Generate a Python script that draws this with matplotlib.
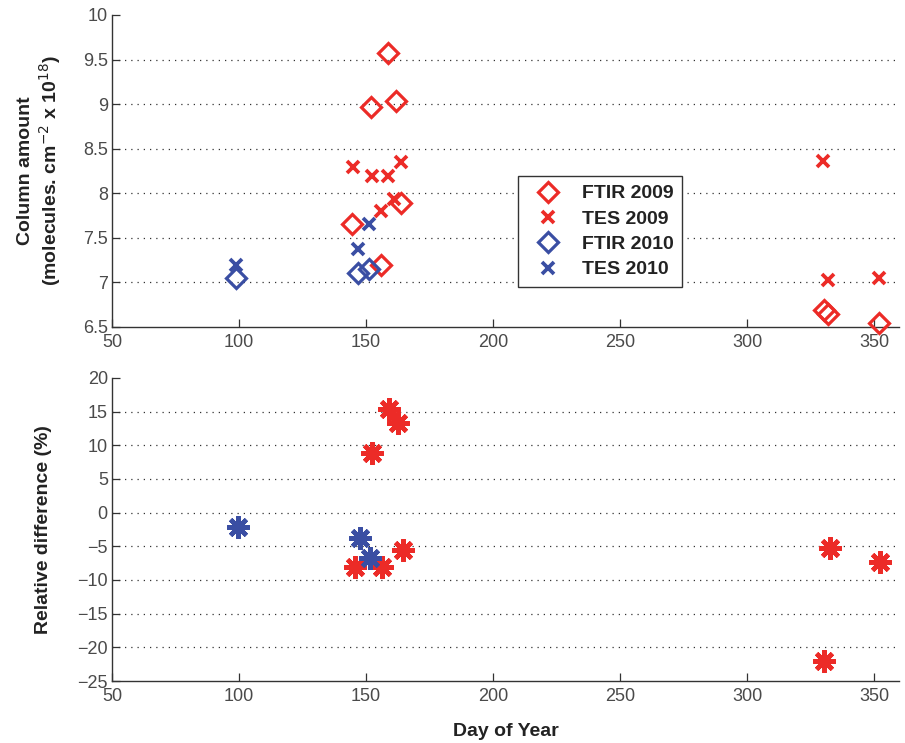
import matplotlib
matplotlib.use("Agg")
import matplotlib.pyplot as plt

plt.rcParams['font.family'] = ['Liberation Sans', 'DejaVu Sans']

RED = '#ec2b27'
BLUE = '#3a4ea3'

# Top panel: column amounts (x 1e18 molecules/cm2)
ftir2009_day = [144.5, 152, 156, 158.7, 161.8, 163.8, 330.5, 332, 352]
ftir2009_val = [7.65, 8.97, 7.20, 9.57, 9.03, 7.89, 6.69, 6.65, 6.54]
tes2009_day = [144.9, 152.3, 156, 158.7, 161, 163.8, 330, 332, 352]
tes2009_val = [8.29, 8.19, 7.80, 8.19, 7.94, 8.35, 8.36, 7.03, 7.05]
ftir2010_day = [99, 147, 151]
ftir2010_val = [7.05, 7.11, 7.15]
tes2010_day = [99, 147, 151]
tes2010_val = [7.20, 7.37, 7.65]

# Bottom panel: relative difference (%)
rd2009_day = [145.7, 152.4, 156.3, 159, 162.6, 164.6, 330.5, 332.5, 352.5]
rd2009_val = [-8.0, 8.8, -8.0, 15.4, 13.3, -5.5, -22.0, -5.3, -7.4]
rd2010_day = [99.6, 147.6, 151.6]
rd2010_val = [-2.1, -3.7, -6.7]

xticks = [50, 100, 150, 200, 250, 300, 350]
yticks_top = [6.5, 7, 7.5, 8, 8.5, 9, 9.5, 10]
ytick_top_labels = ['6.5', '7', '7.5', '8', '8.5', '9', '9.5', '10']
yticks_bot = [-25, -20, -15, -10, -5, 0, 5, 10, 15, 20]

fig = plt.figure(figsize=(9.05, 7.43), dpi=100)
ax1 = fig.add_axes([0.1238, 0.5599, 0.870, 0.420])
ax2 = fig.add_axes([0.1238, 0.0834, 0.870, 0.408])

TICKC = '#4a4a4a'

def style(ax, yt, ylabels=None):
    ax.set_xlim(50, 360)
    ax.set_xticks(xticks)
    ax.set_yticks(yt)
    if ylabels is not None:
        ax.set_yticklabels(ylabels)
    else:
        ax.set_yticklabels([str(v).replace('-', '\u2212') for v in yt])
    for s in ['top', 'right']:
        ax.spines[s].set_visible(False)
    for s in ['left', 'bottom']:
        ax.spines[s].set_color('#333333')
        ax.spines[s].set_linewidth(1.0)
    ax.tick_params(direction='in', length=6, width=0.9, colors='#333333',
                   labelcolor=TICKC, labelsize=13)
    ax.tick_params(axis='y', pad=3)
    ax.tick_params(axis='x', pad=5)
    for y in yt[1:-1]:
        ax.axhline(y, color='#333333', linestyle=(0, (1, 4)), linewidth=0.9, zorder=0)

ax1.set_ylim(6.5, 10)
style(ax1, yticks_top, ytick_top_labels)
ax2.set_ylim(-25, 20)
style(ax2, yticks_bot)

ms_d = 10.5
ax1.plot(ftir2009_day, ftir2009_val, 'D', ms=ms_d, mfc='none', mec=RED, mew=2.3,
         clip_on=False, zorder=3, label='FTIR 2009')
ax1.plot(tes2009_day, tes2009_val, 'x', ms=8, mec=RED, mew=2.7,
         clip_on=False, zorder=3, label='TES 2009')
ax1.plot(ftir2010_day, ftir2010_val, 'D', ms=ms_d, mfc='none', mec=BLUE, mew=2.3,
         clip_on=False, zorder=3, label='FTIR 2010')
ax1.plot(tes2010_day, tes2010_val, 'x', ms=8, mec=BLUE, mew=2.7,
         clip_on=False, zorder=3, label='TES 2010')

star = (8, 2, 0)
ax2.plot(rd2009_day, rd2009_val, linestyle='none', marker=star, ms=16, mec=RED,
         mfc=RED, mew=3.3, zorder=3)
ax2.plot(rd2010_day, rd2010_val, linestyle='none', marker=star, ms=16, mec=BLUE,
         mfc=BLUE, mew=3.3, zorder=3)

leg = ax1.legend(loc='upper left', bbox_to_anchor=(0.516, 0.484), frameon=True,
                 fancybox=False, edgecolor='#333333', framealpha=1,
                 prop={'weight': 'bold', 'size': 14}, handlelength=2.2,
                 borderpad=0.45, labelspacing=0.4, handletextpad=0.6,
                 borderaxespad=0)
leg.get_frame().set_linewidth(1.0)
for t in leg.get_texts():
    t.set_color('#222222')

ax1.set_ylabel('Column amount\n(molecules. cm$^{-2}$ x 10$^{18}$)',
               fontsize=14, fontweight='bold', color='#222222', labelpad=14,
               linespacing=1.2)
ax2.set_ylabel('Relative difference (%)', fontsize=14, fontweight='bold',
               color='#222222', labelpad=18)
ax2.set_xlabel('Day of Year', fontsize=14, fontweight='bold', color='#222222',
               labelpad=13)

fig.savefig('out.png', dpi=100)
